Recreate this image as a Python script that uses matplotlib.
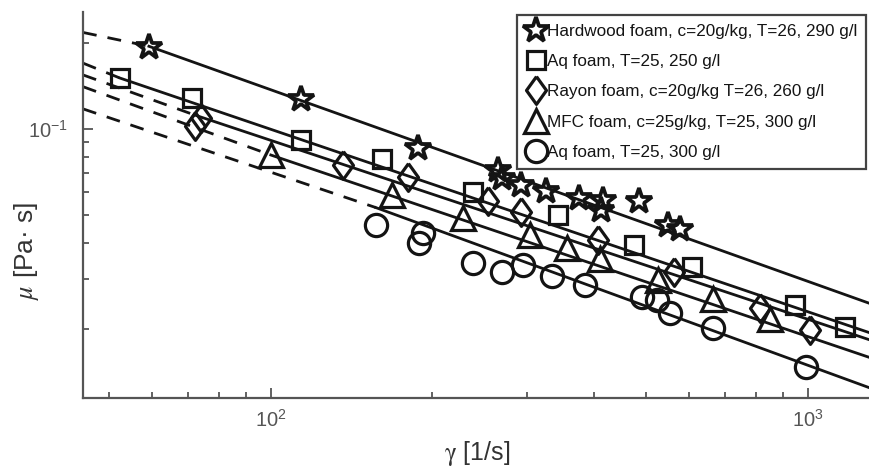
import numpy as np
import matplotlib
matplotlib.use('Agg')
import matplotlib.pyplot as plt
from matplotlib.lines import Line2D
from matplotlib.ticker import LogLocator, FuncFormatter, NullFormatter

plt.rcParams['font.family'] = ['Liberation Sans', 'DejaVu Sans']
plt.rcParams['mathtext.fontset'] = 'stix'

# ---------------- data ----------------
labels = [
    "Hardwood foam, c=20g/kg, T=26, 290 g/l",
    "Aq foam, T=25, 250 g/l",
    "Rayon foam, c=20g/kg T=26, 260 g/l",
    "MFC foam, c=25g/kg, T=25, 300 g/l",
    "Aq foam, T=25, 300 g/l",
]

star_x = [59.3, 113.6, 188.1, 265.0, 268.9, 291.7, 325.2, 375.1, 414.6, 411.1, 485.1, 549.4, 577.7]
star_y = [0.194, 0.1273, 0.0856, 0.0719, 0.0672, 0.0637, 0.0608, 0.0572, 0.0564, 0.0521, 0.0561, 0.0462, 0.0446]

square_x = [52.3, 71.2, 113.6, 160.8, 238.1, 342.8, 474.3, 607.4, 945.8, 1172]
square_y = [0.1504, 0.1280, 0.0915, 0.0786, 0.0603, 0.0500, 0.0393, 0.0330, 0.0242, 0.0203]

diamond_x = [72.1, 74.0, 136.5, 180.2, 253.9, 291.7, 406.9, 563.1, 814.0, 1008.6]
diamond_y = [0.1024, 0.1088, 0.0748, 0.0681, 0.0560, 0.0514, 0.0409, 0.0317, 0.0236, 0.0198]

triangle_x = [100, 167.8, 228.1, 303.6, 356.3, 410, 526.3, 666.3, 849.6]
triangle_y = [0.0811, 0.0588, 0.0487, 0.0426, 0.0383, 0.0351, 0.0296, 0.0254, 0.0217]

circle_x = [156.9, 192.1, 188.9, 238.1, 269.3, 294.6, 333.2, 384.3, 490.1, 522.6, 553.4, 666.3, 991.5]
circle_y = [0.0462, 0.0432, 0.0398, 0.0341, 0.0315, 0.0335, 0.0307, 0.0285, 0.0259, 0.0252, 0.0227, 0.0201, 0.0147]

# power-law fits  mu = K * gamma**exponent  (solid), and low-rate extrapolation exponent (dashed)
fit_K = [3.0, 1.883, 1.627, 1.51, 1.699]
fit_exp = [-0.67, -0.638, -0.6256, -0.635, -0.6855]
low_exp = [-0.394, -0.76, -0.674, -0.683, -0.633]

x_limits = [44.7, 1305]
y_limits = [0.01149, 0.2565]

# ---------------- styling ----------------
BLACK = '#141414'
GRAY = '#555555'
diamond_marker = [(0, 1), (0.72, 0), (0, -1), (-0.72, 0), (0, 1)]
markers = ['*', 's', diamond_marker, '^', 'o']
msizes = [19, 13, 20, 17, 16]
mews = [2.7, 2.3, 2.3, 2.3, 2.3]

series = [(star_x, star_y), (square_x, square_y), (diamond_x, diamond_y),
          (triangle_x, triangle_y), (circle_x, circle_y)]

fig = plt.figure(figsize=(8.7, 4.68), dpi=100)
ax = fig.add_axes([0.0954, 0.1502, 0.9046, 0.8242])
ax.set_xscale('log')
ax.set_yscale('log')

for i, (xs, ys) in enumerate(series):
    xs = np.asarray(xs, float)
    ys = np.asarray(ys, float)
    x0 = xs.min()
    g = np.geomspace(x0, x_limits[1], 60)
    ax.plot(g, fit_K[i] * g ** fit_exp[i], '-', color=BLACK, lw=2.0, zorder=2)
    y0 = fit_K[i] * x0 ** fit_exp[i]
    gl = np.geomspace(x_limits[0], x0, 30)
    ax.plot(gl, y0 * (gl / x0) ** low_exp[i], linestyle=(0, (5, 4)), color=BLACK,
            lw=2.0, zorder=2)
    ax.plot(xs, ys, linestyle='none', marker=markers[i], ms=msizes[i],
            mfc='none', mec=BLACK, mew=mews[i], zorder=3)

ax.set_xlim(*x_limits)
ax.set_ylim(*y_limits)

for s in ['top', 'right']:
    ax.spines[s].set_visible(False)
for s in ['left', 'bottom']:
    ax.spines[s].set_color(GRAY)
    ax.spines[s].set_linewidth(1.6)

def fmt(v, pos):
    e = int(round(np.log10(v)))
    return r'$\mathregular{10^{%d}}$' % e

ax.xaxis.set_major_locator(LogLocator(base=10))
ax.yaxis.set_major_locator(LogLocator(base=10))
ax.xaxis.set_minor_locator(LogLocator(base=10, subs=np.arange(2, 10)))
ax.yaxis.set_minor_locator(LogLocator(base=10, subs=np.arange(2, 10)))
ax.xaxis.set_major_formatter(FuncFormatter(fmt))
ax.yaxis.set_major_formatter(FuncFormatter(fmt))
ax.xaxis.set_minor_formatter(NullFormatter())
ax.yaxis.set_minor_formatter(NullFormatter())
ax.tick_params(which='both', direction='in', color=GRAY, labelcolor=GRAY, width=1.3)
ax.tick_params(which='major', length=7, labelsize=14.5)
ax.tick_params(which='minor', length=4)
ax.tick_params(axis='y', which='major', pad=11)
ax.tick_params(axis='x', which='major', pad=8)

fig.text(477 / 870, 1 - 454 / 468, r'$\mathrm{\gamma}$ [1/s]', ha='center', va='center',
         fontsize=18, color='#333333')
fig.text(27 / 870, 1 - 251 / 468, r'$\mu$ [Pa· s]', ha='center', va='center',
         rotation=90, fontsize=19, color='#333333')

handles = [Line2D([], [], linestyle='none', marker=markers[i], ms=msizes[i],
                  mfc='none', mec=BLACK, mew=mews[i]) for i in range(5)]
leg = fig.legend(handles, labels, loc='upper left', bbox_to_anchor=(517 / 870, 1 - 15 / 468),
                 fontsize=12.3, frameon=True, fancybox=False, borderaxespad=0,
                 handlelength=1.25, handletextpad=0.0, labelspacing=0.9, borderpad=0.5)
leg.get_frame().set_edgecolor(BLACK)
leg.get_frame().set_linewidth(1.6)
for t in leg.get_texts():
    t.set_color(BLACK)

fig.savefig('out.png', dpi=100)
